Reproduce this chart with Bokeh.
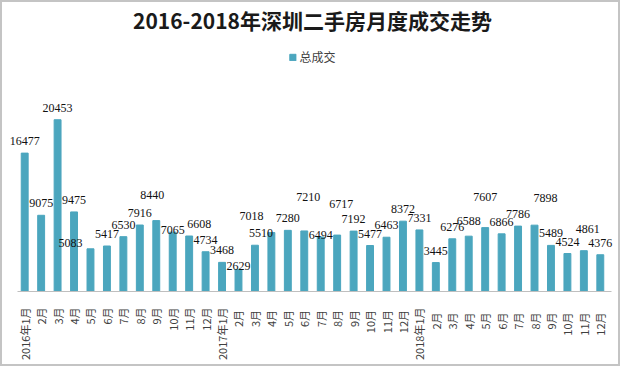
from bokeh.plotting import figure
from bokeh.models import ColumnDataSource, FactorRange, Range1d, Legend, LegendItem, LabelSet
from bokeh.embed import file_html
from bokeh.resources import INLINE
from math import pi

title_text = "2016-2018年深圳二手房月度成交走势"
series_name = "总成交"

months = ["2016年1月", "2月", "3月", "4月", "5月", "6月", "7月", "8月", "9月", "10月", "11月", "12月",
          "2017年1月", "2月 ", "3月 ", "4月 ", "5月 ", "6月 ", "7月 ", "8月 ", "9月 ", "10月 ", "11月 ", "12月 ",
          "2018年1月", "2月  ", "3月  ", "4月  ", "5月  ", "6月  ", "7月  ", "8月  ", "9月  ", "10月  ", "11月  ", "12月  "]
values = [16477, 9075, 20453, 9475, 5083, 5417, 6530, 7916, 8440, 7065, 6608, 4734,
          3468, 2629, 5510, 7018, 7280, 7210, 6494, 6717, 7192, 5477, 6463, 8372,
          7331, 3445, 6276, 6588, 7607, 6866, 7786, 7898, 5489, 4524, 4861, 4376]

# label nudges (px) seen in the reference layout: (right, up)
label_dx = [0, 0, 0, 0, -20, 0, 0, 0, -4, 0, 10, 0,
            0, 0, 6, -20, 0, 4, 0, 4, 0, 0, 0, 0,
            0, 0, 0, 0, 0, 0, 0, 11, 0, 0, 4, 0]
label_dy = [0, 0, 0, 0, -6, 0, 0, 0, 14, -10, 0, 0,
            0, -9, 0, 5, 0, 22, -10, 19, 0, 0, 0, 0,
            0, 0, 0, 3, 19, 0, 0, 15, 0, 0, 10, 0]

bar_color = "#4BA6BE"

base_dy = 12
src = ColumnDataSource(dict(x=months, y=values, t=[str(v) for v in values],
                            dx=label_dx, dy=[base_dy + d for d in label_dy]))

p = figure(width=620, height=366,
           x_range=FactorRange(*months, range_padding=0.85, range_padding_units="absolute"),
           y_range=Range1d(0, 30600), output_backend="svg", toolbar_location=None,
           min_border_left=0, min_border_right=0, min_border_bottom=77, min_border_top=0)
p.styles = {"border": "2px solid #C4C4C4"}

p.title.text = title_text
p.title.align = "center"
p.title.text_font = "Noto Sans CJK SC"
p.title.text_font_size = "21px"
p.title.text_font_style = "bold"
p.title.text_color = "#1a1a1a"
p.title.offset = 0
p.title.standoff = 0
p.title.text_line_height = 1.5

r = p.vbar(x="x", top="y", width=0.42, source=src, color=bar_color)

labels = LabelSet(x="x", y="y", text="t", source=src, text_align="center", text_baseline="middle",
                  x_offset="dx", y_offset="dy", text_font_size="12px", text_font="Open Sans",
                  text_color="#111111")
p.add_layout(labels)

leg = Legend(items=[LegendItem(label=series_name, renderers=[r])], location="top_center",
             orientation="horizontal", border_line_color=None, background_fill_alpha=0,
             label_text_font="Noto Sans CJK SC", label_text_font_size="12px", label_text_color="#404040",
             glyph_width=8, glyph_height=8, label_standoff=3, padding=2, margin=14)
p.add_layout(leg)

p.yaxis.visible = False
p.xgrid.visible = False
p.ygrid.visible = False
p.outline_line_color = None
p.xaxis.bounds = (0.05, 36.2)
p.xaxis.axis_line_color = "#BFBFBF"
p.xaxis.major_tick_line_color = None
p.xaxis.minor_tick_line_color = None
p.xaxis.major_label_orientation = pi / 2
p.xaxis.major_label_text_font = "Noto Sans CJK SC"
p.xaxis.major_label_text_font_size = "11px"
p.xaxis.major_label_text_color = "#404040"
p.xaxis.major_label_standoff = 10

open("out.html", "w").write(file_html(p, INLINE))
